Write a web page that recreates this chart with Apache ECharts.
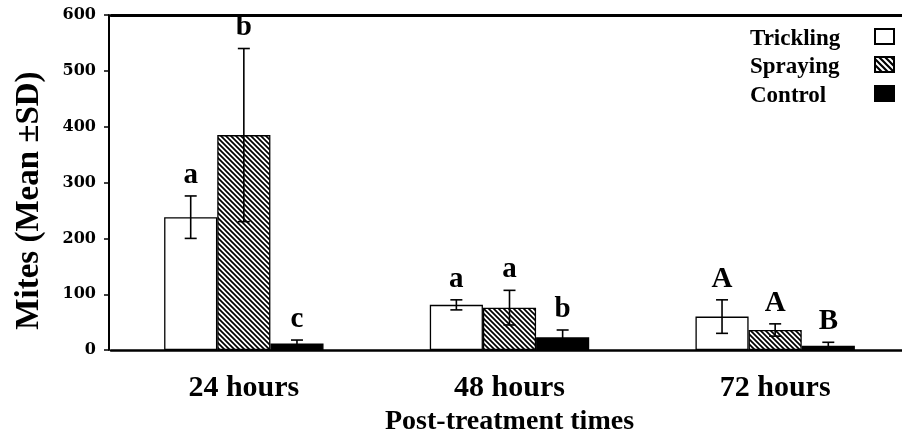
<!DOCTYPE html>
<html>
<head>
<meta charset="utf-8">
<script src="https://cdn.jsdelivr.net/npm/echarts@6/dist/echarts.min.js"></script>
<style>
html,body{margin:0;padding:0;background:#fff;overflow:hidden;width:902px;height:441px;}
#chart{width:912px;height:441px;}
</style>
</head>
<body>
<div id="chart"></div>
<script>
const categories = ['24 hours', '48 hours', '72 hours'];
const seriesNames = ['Trickling', 'Spraying', 'Control'];
const tricklingMean = [238, 81, 60];
const sprayingMean = [385, 76, 36];
const controlMean = [12, 23, 8];
const tricklingSD = [38, 9, 30];
const sprayingSD = [155, 31, 11];
const controlSD = [6, 13, 6];
const tricklingLetters = ['a', 'a', 'A'];
const sprayingLetters = ['b', 'a', 'A'];
const controlLetters = ['c', 'b', 'B'];
const yMin = 0, yMax = 600, yStep = 100;

const SERIF = '"Liberation Serif", "Times New Roman", serif';

function hatchCanvas(p, lw) {
  const c = document.createElement('canvas');
  c.width = p; c.height = p;
  const ctx = c.getContext('2d');
  ctx.fillStyle = '#fff';
  ctx.fillRect(0, 0, p, p);
  ctx.strokeStyle = '#000';
  ctx.lineWidth = lw;
  ctx.beginPath();
  ctx.moveTo(-1, -1); ctx.lineTo(p + 1, p + 1);
  ctx.moveTo(-1, p - 1); ctx.lineTo(1, p + 1);
  ctx.moveTo(p - 1, -1); ctx.lineTo(p + 1, 1);
  ctx.stroke();
  return c;
}
const hatch = { image: hatchCanvas(5, 1.7), repeat: 'repeat' };
const hatchLegend = { image: hatchCanvas(6, 2.2), repeat: 'repeat' };

const BAR_RATIO = 0.2;
const means = [tricklingMean, sprayingMean, controlMean];
const sds = [tricklingSD, sprayingSD, controlSD];
const letters = [tricklingLetters, sprayingLetters, controlLetters];
const fills = ['#ffffff', hatch, '#000000'];

const chart = echarts.init(document.getElementById('chart'), null, { renderer: 'canvas' });

const series = [];
seriesNames.forEach((name, k) => {
  series.push({
    name: name,
    type: 'bar',
    data: means[k],
    barWidth: (BAR_RATIO * 100) + '%',
    barGap: '0%',
    itemStyle: { color: fills[k], borderColor: '#000', borderWidth: 1.3 },
    silent: true,
    z: 2
  });
});
seriesNames.forEach((name, k) => {
  series.push({
    name: name + ' SD',
    type: 'custom',
    data: categories.map((c, i) => [i, means[k][i], sds[k][i]]),
    encode: { x: 0, y: 1 },
    z: 5,
    silent: true,
    renderItem: function (params, api) {
      const cat = api.value(0), m = api.value(1), sd = api.value(2);
      const band = api.size([1, 0])[0];
      const x = api.coord([cat, 0])[0] + band * BAR_RATIO * (k - 1);
      const yTop = api.coord([cat, m + sd])[1];
      const yBot = api.coord([cat, Math.max(0, m - sd)])[1];
      const cap = 6;
      const ls = { stroke: '#000', lineWidth: 1.6 };
      return {
        type: 'group',
        children: [
          { type: 'line', shape: { x1: x, y1: yTop, x2: x, y2: yBot }, style: ls },
          { type: 'line', shape: { x1: x - cap, y1: yTop, x2: x + cap, y2: yTop }, style: ls },
          { type: 'line', shape: { x1: x - cap, y1: yBot, x2: x + cap, y2: yBot }, style: ls },
          { type: 'text', style: { text: letters[k][params.dataIndex], x: x, y: yTop - 6,
              align: 'center', verticalAlign: 'bottom', font: 'bold 29px ' + SERIF, fill: '#000' } }
        ]
      };
    }
  });
});

const legendY = [40, 68, 97];
const legendFills = ['#ffffff', hatchLegend, '#000000'];
const graphics = [];
seriesNames.forEach((name, k) => {
  graphics.push({
    type: 'text', left: 750, top: legendY[k] - 12,
    style: { text: name, font: 'bold 23px ' + SERIF, fill: '#000' }
  });
  graphics.push({
    type: 'rect', shape: { x: 875, y: legendY[k] - 11, width: 19, height: 15 },
    style: { fill: legendFills[k], stroke: '#000', lineWidth: 2 }
  });
});

chart.setOption({
  animation: false,
  backgroundColor: '#fff',
  grid: { left: 111, right: 4, top: 15, bottom: 90, containLabel: false },
  xAxis: [{
    type: 'category',
    data: categories,
    name: 'Post-treatment times',
    nameLocation: 'middle',
    nameGap: 57,
    nameTextStyle: { fontFamily: SERIF, fontWeight: 'bold', fontSize: 28, color: '#000' },
    axisLine: { lineStyle: { color: '#000', width: 2.5 } },
    axisTick: { show: false },
    axisLabel: { margin: 23, fontFamily: SERIF, fontWeight: 'bold', fontSize: 30, color: '#000' },
    splitLine: { show: false }
  }, {
    type: 'category',
    data: categories,
    position: 'top',
    axisLine: { lineStyle: { color: '#000', width: 3 } },
    axisTick: { show: false },
    axisLabel: { show: false },
    splitLine: { show: false }
  }],
  yAxis: {
    type: 'value',
    min: yMin, max: yMax, interval: yStep,
    offset: 2,
    name: 'Mites (Mean ±SD)',
    nameLocation: 'middle',
    nameGap: 63,
    nameRotate: 90,
    nameTextStyle: { fontFamily: SERIF, fontWeight: 'bold', fontSize: 33, color: '#000', padding: [0, 36, 0, 0] },
    axisLine: { show: true, lineStyle: { color: '#000', width: 2 } },
    axisTick: { show: true, length: 5, lineStyle: { color: '#000', width: 1.5 } },
    axisLabel: { margin: 13, fontFamily: '"DejaVu Serif", serif', fontWeight: 'bold', fontSize: 16, color: '#000' },
    splitLine: { show: false }
  },
  legend: { show: false, data: seriesNames },
  series: series,
  graphic: graphics
});
</script>
</body>
</html>
